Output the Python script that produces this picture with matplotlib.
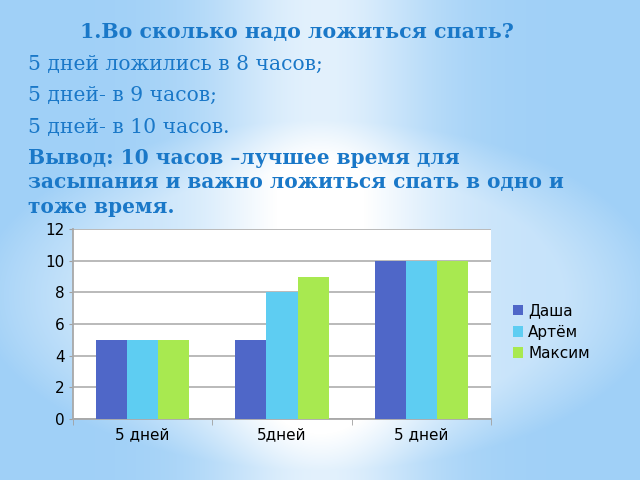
import numpy as np
import matplotlib
matplotlib.use('Agg')
import matplotlib.pyplot as plt

# данные графика
categories = ['5 дней', '5дней', '5 дней']
names = ['Даша', 'Артём', 'Максим']
dasha = [5, 5, 10]
artem = [5, 8, 10]
maksim = [5, 9, 10]
colors = ['#4f67c8', '#5ecdf2', '#a8e950']

title = '1.Во сколько надо ложиться спать?'
lines = ['5 дней ложились в 8 часов;', '5 дней- в 9 часов;', '5 дней- в 10 часов.']
conclusion = 'Вывод: 10 часов –лучшее время для\nзасыпания и важно ложиться спать в одно и\nтоже время.'

fig = plt.figure(figsize=(6.4, 4.8), dpi=100)

# фон слайда
bg = fig.add_axes([0, 0, 1, 1])
W, H = 640, 480
xx, yy = np.meshgrid(np.arange(W), np.arange(H))
base = np.array([160, 208, 247]) / 255.0
band = np.exp(-((xx - 320) / 110.0) ** 2) * 0.7
ell = ((xx - 320) / 345.0) ** 2 + ((yy - 295) / 175.0) ** 2
inside = np.clip((1 - ell) * 2.0, 0, 1) * 0.4
w = np.clip(band + inside, 0, 1)
img = base[None, None, :] * (1 - w[..., None]) + w[..., None]
bg.imshow(img, extent=[0, W, H, 0], aspect='auto')
bg.set_xlim(0, W)
bg.set_ylim(H, 0)
bg.axis('off')

txt_color = '#1a78c8'
bg.text(80, 32, title, fontsize=14.8, fontweight='bold', family='DejaVu Serif',
        color=txt_color, va='center')
for i, s in enumerate(lines):
    bg.text(28, 64 + i * 31.5, s, fontsize=14.6, family='DejaVu Serif',
            color=txt_color, va='center')
bg.text(28, 148, conclusion, fontsize=14.5, fontweight='bold', family='DejaVu Serif',
        color=txt_color, va='top', linespacing=1.27)

# график
ax = fig.add_axes([73 / W, 1 - 419 / H, (491 - 73) / W, (419 - 229) / H])
x = np.arange(len(categories))
bw = 0.223
for i, (vals, nm) in enumerate(zip([dasha, artem, maksim], names)):
    ax.bar(x + (i - 1) * bw, vals, bw, color=colors[i], label=nm, zorder=3)

ax.set_xlim(-0.5, 2.5)
ax.set_ylim(0, 12)
ax.set_yticks(range(0, 13, 2))
ax.set_xticks(x)
ax.set_xticklabels(categories, fontsize=11)
ax.set_xticks([-0.5, 0.5, 1.5, 2.5], minor=True)
ax.tick_params(axis='x', which='major', length=0, pad=6)
ax.tick_params(axis='x', which='minor', length=4, color='#a0a0a0')
ax.tick_params(axis='y', length=3, color='#a0a0a0', labelsize=11, pad=3)
ax.grid(axis='y', color='#b4b4b4', linewidth=1.3, zorder=0)
for sp in ['top', 'right']:
    ax.spines[sp].set_visible(False)
for sp in ['left', 'bottom']:
    ax.spines[sp].set_color('#a8a8a8')
    ax.spines[sp].set_linewidth(1.3)

fig.legend(loc='center left', bbox_to_anchor=(499 / W, 1 - 332 / H), frameon=False,
           fontsize=11, handlelength=0.7, handleheight=0.7, handletextpad=0.3,
           labelspacing=0.4)

fig.savefig('out.png', dpi=100)
